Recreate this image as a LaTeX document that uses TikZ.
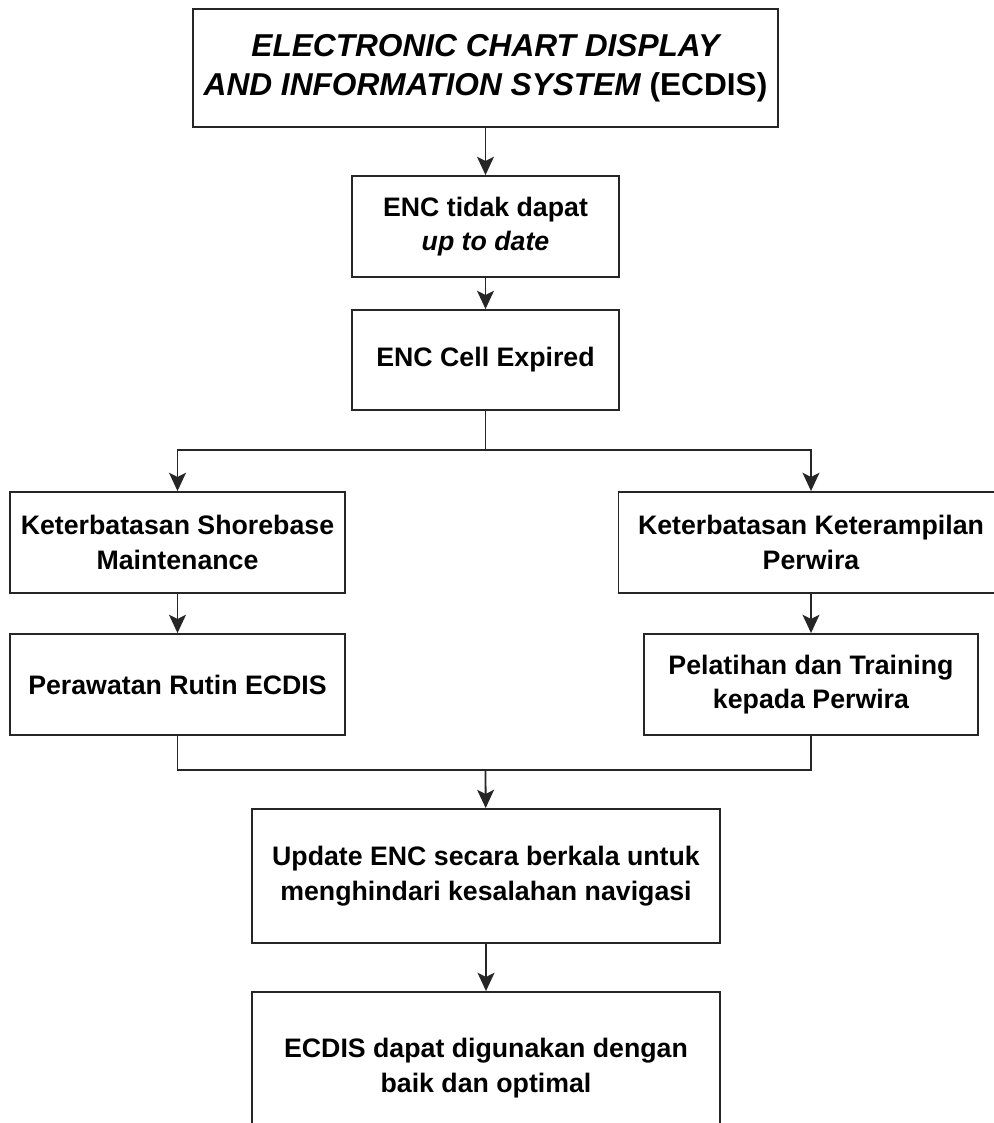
\documentclass[tikz,border=0pt]{standalone}
\usepackage{fontspec}
\setmainfont{Liberation Sans}
\usetikzlibrary{arrows.meta}
\begin{document}
\begin{tikzpicture}[x=0.025cm,y=-0.025cm,
box/.style={draw=black!85,line width=1.3pt,align=center,inner sep=0pt,font=\bfseries\fontsize{19}{24.5}\selectfont},
arr/.style={-{Stealth[length=13pt,width=12pt,inset=3pt]}}]
\useasboundingbox(0,0)rectangle(993,1123);
\node[box,minimum width=14.625cm,minimum height=2.95cm,font=\bfseries\fontsize{22.5}{28}\selectfont](ecdis)at(485.5,68){\itshape ELECTRONIC CHART DISPLAY\\\itshape AND INFORMATION SYSTEM \upshape(ECDIS)};
\node[box,minimum width=6.675cm,minimum height=2.525cm](enc)at(485.5,226.5){ENC tidak dapat\\\itshape up to date};
\node[box,minimum width=6.675cm,minimum height=2.5cm](cell)at(485.5,360){ENC Cell Expired};
\node[box,minimum width=8.375cm,minimum height=2.525cm](shore)at(177.5,542.5){Keterbatasan Shorebase\\Maintenance};
\node[box,minimum width=9.625cm,minimum height=2.525cm](skill)at(811,542.5){Keterbatasan Keterampilan\\Perwira};
\node[box,minimum width=8.375cm,minimum height=2.525cm](rutin)at(177.5,684.5){Perawatan Rutin ECDIS};
\node[box,minimum width=8.35cm,minimum height=2.525cm](train)at(811,684.5){Pelatihan dan Training\\kepada Perwira};
\node[box,minimum width=11.7cm,minimum height=3.35cm](update)at(486,876){Update ENC secara berkala untuk\\menghindari kesalahan navigasi};
\node[box,minimum width=11.7cm,minimum height=3.8cm](optimal)at(486,1068){ECDIS dapat digunakan dengan\\baik dan optimal};
\coordinate(split)at(485.5,450);
\coordinate(join)at(485.5,770);
\begin{scope}[draw=black!85,line width=1.3pt]
\draw[arr](ecdis)--(enc);
\draw[arr](enc)--(cell);
\draw(cell)--(split);
\draw[arr](split)-|(shore);
\draw[arr](split)-|(skill);
\draw[arr](shore)--(rutin);
\draw[arr](skill)--(train);
\draw(rutin)|-(join);
\draw(train)|-(join);
\draw[arr](join)--(update);
\draw[arr](update)--(optimal);
\end{scope}
\end{tikzpicture}
\end{document}
